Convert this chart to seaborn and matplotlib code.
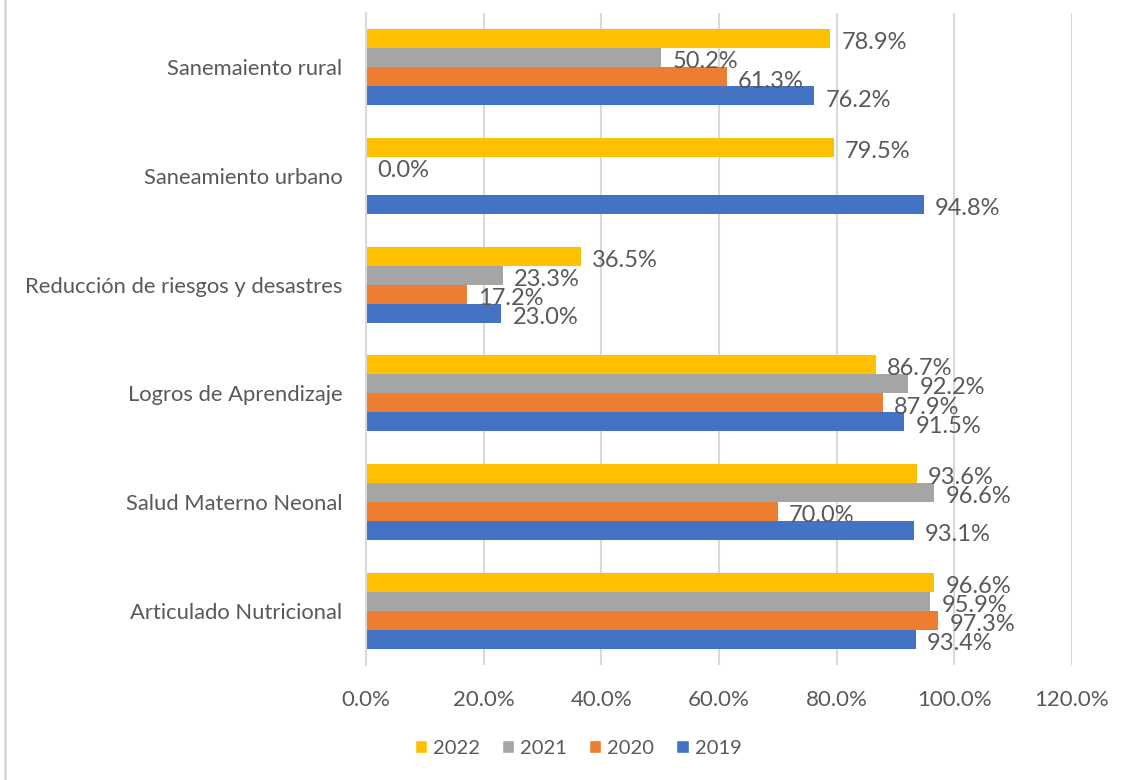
import numpy as np
import pandas as pd
import matplotlib
matplotlib.use("Agg")
import matplotlib.pyplot as plt
from matplotlib.lines import Line2D
from matplotlib.patches import Patch
from matplotlib.ticker import FuncFormatter
import seaborn as sns

categories = ["Sanemaiento rural", "Saneamiento urbano", "Reducción de riesgos y desastres",
              "Logros de Aprendizaje", "Salud Materno Neonal", "Articulado Nutricional"]
years = ["2022", "2021", "2020", "2019"]
v2022 = [78.9, 79.5, 36.5, 86.7, 93.6, 96.6]
v2021 = [50.2, 0.0, 23.3, 92.2, 96.6, 95.9]
v2020 = [61.3, np.nan, 17.2, 87.9, 70.0, 97.3]
v2019 = [76.2, 94.8, 23.0, 91.5, 93.1, 93.4]
colors = ["#FFC000", "#A5A5A5", "#ED7D31", "#4472C4"]
xticks = [0, 20, 40, 60, 80, 100, 120]

series = {"2022": v2022, "2021": v2021, "2020": v2020, "2019": v2019}
rows = []
for y in years:
    for c, v in zip(categories, series[y]):
        rows.append({"Programa": c, "Año": y, "Valor": v})
df = pd.DataFrame(rows)

sns.set_theme(style="white")
plt.rcParams["font.family"] = ["Lato", "DejaVu Sans"]
txt = "#595959"

fig = plt.figure(figsize=(11.27, 7.8), dpi=100)
ax = fig.add_axes([366/1127, 1-665/780, (1072-366)/1127, (665-13)/780])

sns.barplot(data=df.dropna(), y="Programa", x="Valor", hue="Año", order=categories,
            hue_order=years, palette=colors, orient="h", errorbar=None,
            width=0.7, saturation=1, linewidth=0, ax=ax, legend=False)

for cont in ax.containers:
    for b in cont:
        w = b.get_width()
        yc = b.get_y() + b.get_height() / 2
        ax.annotate(f"{w:.1f}%", xy=(w, yc), xytext=(8, -3), textcoords="offset points",
                    va="center", ha="left", color=txt, fontsize=17)

ax.set_xlim(0, 120)
ax.set_xticks(xticks)
ax.xaxis.set_major_formatter(FuncFormatter(lambda v, p: f"{v:.1f}%"))
ax.grid(axis="x", color="#D9D9D9", linewidth=1.5)
ax.set_axisbelow(True)
for s in ["top", "right", "bottom"]:
    ax.spines[s].set_visible(False)
ax.spines["left"].set_color("#D9D9D9")
ax.spines["left"].set_linewidth(1.5)
ax.set_xlabel("")
ax.set_ylabel("")
ax.tick_params(axis="x", colors=txt, labelsize=16, length=0, pad=18)
ax.tick_params(axis="y", colors=txt, labelsize=15.8, length=0, pad=17)

handles = [Patch(facecolor=c, label=y) for c, y in zip(colors, years)]
fig.legend(handles=handles, loc="center", bbox_to_anchor=(578/1127, 1-748/780), ncol=4,
           frameon=False, fontsize=14.5, labelcolor=txt, handlelength=0.6, handleheight=0.6,
           handletextpad=0.3, columnspacing=1.1)

fig.add_artist(Line2D([5/1127, 5/1127], [0, 1], color="#D9D9D9", linewidth=2))

fig.savefig("out.png", dpi=100, facecolor="white")
